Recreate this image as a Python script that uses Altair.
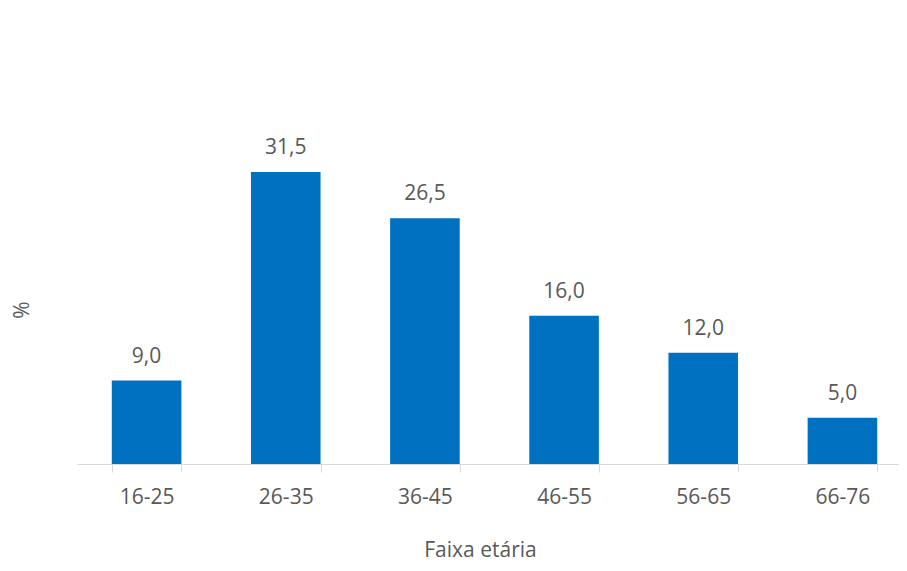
import altair as alt
import pandas as pd

faixas = ["16-25", "26-35", "36-45", "46-55", "56-65", "66-76"]
valores = [9.0, 31.5, 26.5, 16.0, 12.0, 5.0]

df = pd.DataFrame({"faixa": faixas, "valor": valores})

FONT = "Open Sans"
TXT = "#595959"

x = alt.X(
    "faixa:N",
    sort=faixas,
    scale=alt.Scale(paddingInner=0.5, paddingOuter=0.25, range=[0, 835]),
    axis=alt.Axis(
        title="Faixa etária",
        labelAngle=0,
        labelFont=FONT,
        labelFontSize=21,
        labelColor=TXT,
        labelBaseline="alphabetic",
        labelPadding=31,
        tickBand="extent",
        tickSize=8,
        tickColor="#D9D9D9",
        domainColor="#D9D9D9",
        domainWidth=1,
        titleFont=FONT,
        titleFontSize=21,
        titleFontWeight="normal",
        titleColor=TXT,
        titleX=403,
        titleY=92,
        titleAlign="center",
        titleBaseline="alphabetic",
        grid=False,
    ),
)

y = alt.Y(
    "valor:Q",
    scale=alt.Scale(domain=[0, 35], nice=False),
    axis=alt.Axis(
        title="%",
        labels=False,
        ticks=False,
        domain=False,
        grid=False,
        titleFont=FONT,
        titleFontSize=21,
        titleFontWeight="normal",
        titleColor=TXT,
        titleX=-55,
        titleY=170,
        titleAngle=-90,
        titleAlign="center",
        titleBaseline="middle",
    ),
)

bars = alt.Chart(df).mark_bar(color="#0070C0").encode(x=x, y=y)

labels = (
    alt.Chart(df)
    .transform_calculate(rot="replace(format(datum.valor, '.1f'), '.', ',')")
    .mark_text(font=FONT, fontSize=21, color=TXT, baseline="alphabetic", dy=-18)
    .encode(x=alt.X("faixa:N", sort=faixas), y="valor:Q", text="rot:N")
)

chart = (
    alt.layer(bars, labels)
    .properties(
        width=822,
        height=324.5,
        autosize=alt.AutoSizeParams(type="none"),
        padding={"left": 69, "top": 131.5, "right": 0, "bottom": 99},
        background="white",
    )
    .configure_view(stroke=None)
)

chart.save("out.html", embed_options={"renderer": "svg", "actions": False})
